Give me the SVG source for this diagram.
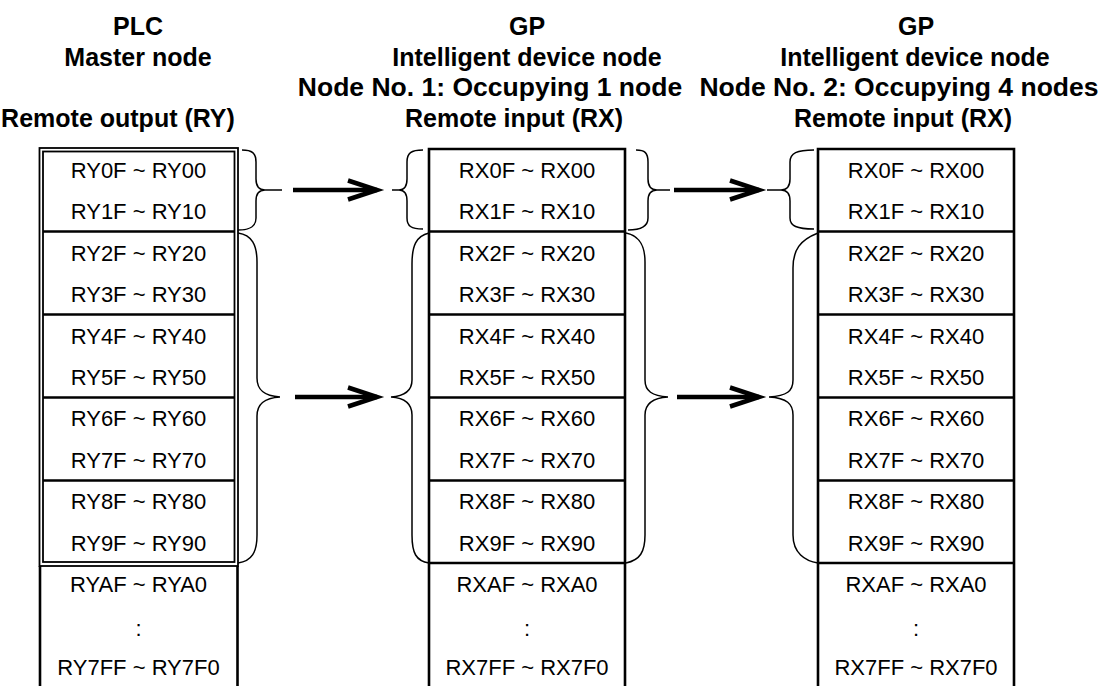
<svg xmlns="http://www.w3.org/2000/svg" width="1107" height="686" viewBox="0 0 1107 686">
<defs>
<style>
.h{font-family:"Liberation Sans",Arial,sans-serif;font-weight:bold;font-size:25px;text-anchor:middle;fill:#000}
.h3{font-size:26.5px}
.c{font-family:"Liberation Sans",Arial,sans-serif;font-size:22px;text-anchor:middle;fill:#000}
.t{fill:none;stroke:#000;stroke-width:2.6}
.d{fill:none;stroke:#000;stroke-width:1.8}
.b{fill:none;stroke:#000;stroke-width:1.5}
.a{fill:none;stroke:#000;stroke-width:4.5}
</style>
<marker id="ah" markerUnits="userSpaceOnUse" markerWidth="40" markerHeight="30" refX="30" refY="10" orient="auto" overflow="visible">
<path d="M1,0.5 L30,10 L1,19.5" fill="none" stroke="#000" stroke-width="4.5"/>
</marker>
</defs>
<rect width="1107" height="686" fill="#fff"/>

<g id="headers">
<text class="h" x="138" y="35">PLC</text>
<text class="h" x="138" y="65.5">Master node</text>
<text class="h" x="118" y="126.5">Remote output (RY)</text>
<text class="h" x="527" y="35">GP</text>
<text class="h" x="527" y="65.5">Intelligent device node</text>
<text class="h h3" x="490" y="96">Node No. 1: Occupying 1 node</text>
<text class="h" x="514" y="126.5">Remote input (RX)</text>
<text class="h" x="916" y="35">GP</text>
<text class="h" x="915" y="65.5">Intelligent device node</text>
<text class="h h3" x="899" y="96">Node No. 2: Occupying 4 nodes</text>
<text class="h" x="903" y="126.5">Remote input (RX)</text>
</g>

<g id="node-plc">
<rect class="d" x="39.5" y="148" width="198.5" height="418"/>
<rect class="d" x="43" y="151.5" width="191.5" height="410.5"/>
<path class="t" d="M43,231.5 H234.5 M43,314.5 H234.5 M43,397.5 H234.5 M43,480.5 H234.5 M40,566 V686 M237.5,566 V686"/>
<text class="c" x="138.5" y="177.5">RY0F ~ RY00</text>
<text class="c" x="138.5" y="219">RY1F ~ RY10</text>
<text class="c" x="138.5" y="260.5">RY2F ~ RY20</text>
<text class="c" x="138.5" y="302">RY3F ~ RY30</text>
<text class="c" x="138.5" y="343.5">RY4F ~ RY40</text>
<text class="c" x="138.5" y="385">RY5F ~ RY50</text>
<text class="c" x="138.5" y="426">RY6F ~ RY60</text>
<text class="c" x="138.5" y="467.5">RY7F ~ RY70</text>
<text class="c" x="138.5" y="509">RY8F ~ RY80</text>
<text class="c" x="138.5" y="550.5">RY9F ~ RY90</text>
<text class="c" x="138.5" y="592">RYAF ~ RYA0</text>
<text class="c" x="138.5" y="636">:</text>
<text class="c" x="138.5" y="675">RY7FF ~ RY7F0</text>
</g>

<g id="node-gp1">
<path class="t" d="M429,686 V149 H625 V686 M429,231.5 H625 M429,314.5 H625 M429,397.5 H625 M429,480.5 H625 M429,563 H625"/>
<text class="c" x="527" y="177.5">RX0F ~ RX00</text>
<text class="c" x="527" y="219">RX1F ~ RX10</text>
<text class="c" x="527" y="260.5">RX2F ~ RX20</text>
<text class="c" x="527" y="302">RX3F ~ RX30</text>
<text class="c" x="527" y="343.5">RX4F ~ RX40</text>
<text class="c" x="527" y="385">RX5F ~ RX50</text>
<text class="c" x="527" y="426">RX6F ~ RX60</text>
<text class="c" x="527" y="467.5">RX7F ~ RX70</text>
<text class="c" x="527" y="509">RX8F ~ RX80</text>
<text class="c" x="527" y="550.5">RX9F ~ RX90</text>
<text class="c" x="527" y="592">RXAF ~ RXA0</text>
<text class="c" x="527" y="636">:</text>
<text class="c" x="527" y="675">RX7FF ~ RX7F0</text>
</g>

<g id="node-gp2">
<path class="t" d="M818,686 V149 H1014 V686 M818,231.5 H1014 M818,314.5 H1014 M818,397.5 H1014 M818,480.5 H1014 M818,563 H1014"/>
<text class="c" x="916" y="177.5">RX0F ~ RX00</text>
<text class="c" x="916" y="219">RX1F ~ RX10</text>
<text class="c" x="916" y="260.5">RX2F ~ RX20</text>
<text class="c" x="916" y="302">RX3F ~ RX30</text>
<text class="c" x="916" y="343.5">RX4F ~ RX40</text>
<text class="c" x="916" y="385">RX5F ~ RX50</text>
<text class="c" x="916" y="426">RX6F ~ RX60</text>
<text class="c" x="916" y="467.5">RX7F ~ RX70</text>
<text class="c" x="916" y="509">RX8F ~ RX80</text>
<text class="c" x="916" y="550.5">RX9F ~ RX90</text>
<text class="c" x="916" y="592">RXAF ~ RXA0</text>
<text class="c" x="916" y="636">:</text>
<text class="c" x="916" y="675">RX7FF ~ RX7F0</text>
</g>

<g id="connectors">
<path class="b" d="M242,150 C252,150 256,153 256,162 V179 C256,186 259,190 265,190 H282 M265,190 C259,190 256,194 256,201 V218 C256,226 251,230 238,230"/>
<path class="b" d="M423,150 C411,150 407,153 407,162 V179 C407,186 404,190 399,190 H392 M399,190 C404,190 407,194 407,201 V218 C407,226 411,229 423,229"/>
<path class="b" d="M636,150 C645,150 648,153 648,162 V179 C648,186 651,190 657,190 H670 M657,190 C651,190 648,194 648,201 V218 C648,226 642,230 628,230"/>
<path class="b" d="M814,150 C797,150 790,153 790,162 V179 C790,186 787,190 781,190 H767 M781,190 C787,190 790,194 790,201 V218 C790,226 797,229 814,229"/>
<path class="b" d="M238,233 C252,235 257,245 257,262 V378 C257,390 264,396 280,397 C264,398 257,404 257,416 V535 C257,552 252,561 238,563"/>
<path class="b" d="M429,233 C416,236 412,246 412,264 V380 C412,391 405,396 391,397 C405,398 412,404 412,415 V535 C412,553 416,561 429,563"/>
<path class="b" d="M626,233 C640,236 645,246 645,262 V380 C645,391 652,396 668,397 C652,398 645,404 645,415 V535 C645,552 640,560 626,563"/>
<path class="b" d="M818,233 C800,240 793,250 793,268 V380 C793,391 787,396 769,397 C787,398 793,404 793,415 V535 C793,553 805,561 818,563"/>
<path class="a" d="M293,190 H377" marker-end="url(#ah)"/>
<path class="a" d="M295,397 H377" marker-end="url(#ah)"/>
<path class="a" d="M674,190 H759" marker-end="url(#ah)"/>
<path class="a" d="M677,397 H759" marker-end="url(#ah)"/>
</g>
</svg>
